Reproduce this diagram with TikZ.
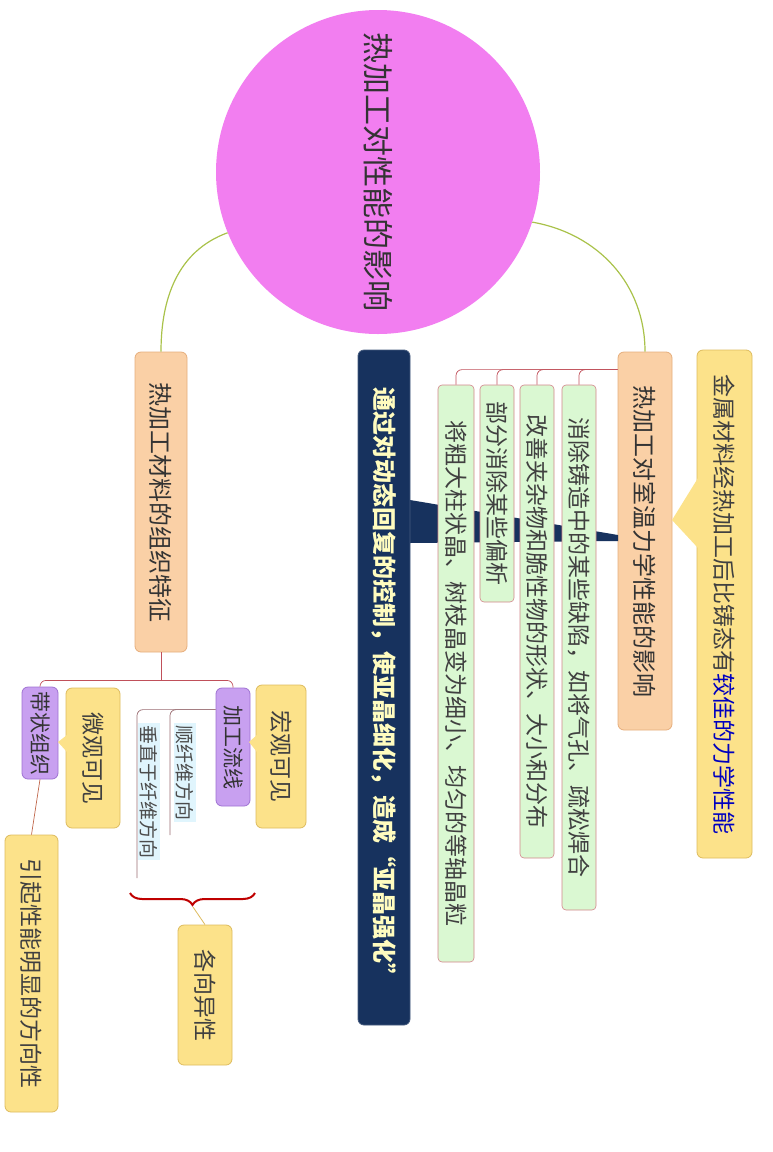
\documentclass[tikz,border=0pt]{standalone}
\usepackage{fontspec}
\newfontfamily\cjk{Noto Sans CJK SC}
\usetikzlibrary{decorations.pathreplacing}
\definecolor{peach}{HTML}{FAD0A6}
\definecolor{peachline}{HTML}{E6AE7C}
\definecolor{gold}{HTML}{FCE28A}
\definecolor{goldline}{HTML}{DDBB5E}
\definecolor{lilac}{HTML}{C8A0F0}
\definecolor{lilacline}{HTML}{9F72D2}
\definecolor{mint}{HTML}{DAF8D2}
\definecolor{navy}{HTML}{17325E}
\definecolor{olive}{HTML}{A9C24A}
\definecolor{orchid}{HTML}{F27EF0}
\definecolor{branchred}{HTML}{C0505A}
\tikzset{
  box/.style={rotate=-90, rounded corners=6pt, draw, line width=0.8pt, align=center, inner sep=2pt},
  topic/.style={box, fill=peach, draw=peachline, font=\cjk\fontsize{24}{28}\selectfont, text=black!80},
  note/.style={box, fill=gold, draw=goldline, font=\cjk\fontsize{23}{26}\selectfont, text=black!75},
  tag/.style={box, fill=lilac, draw=lilacline, font=\cjk\fontsize{21}{24}\selectfont, text=black!80},
  leaf/.style={box, rounded corners=4pt, fill=mint, draw=branchred!70, line width=0.6pt, font=\cjk\fontsize{23}{26}\selectfont, text=black!75},
  fibre/.style={rotate=-90, fill=cyan!12, inner sep=2pt, font=\cjk\fontsize{19}{22}\selectfont, text=black!70},
  branch/.style={draw=branchred, line width=0.7pt, rounded corners=6pt},
  stem/.style={draw=olive, line width=1.2pt}
}
\begin{document}
\begin{tikzpicture}[x=1pt, y=-1pt]
\useasboundingbox (0,0) rectangle (772,1152);
% centre
\node[circle, fill=orchid, minimum size=324pt, inner sep=0pt, rotate=-90,
  font=\cjk\fontsize{31}{34}\selectfont, text=black!80] (C) at (378,172) {热加工对性能的影响};
% right side
\node[topic, minimum width=378pt, minimum height=54pt] (R) at (645,541) {热加工对室温力学性能的影响};
\node[note, minimum width=508pt, minimum height=55pt] (K) at (724.5,604)
  {金属材料经热加工后比铸态有\textcolor{blue!75!black}{较佳的力学性能}};
\fill[gold] (698,478) -- (672,520) -- (698,548) -- cycle;
\fill[navy] (410,500) -- (618,535) -- (618,541) -- (410,543) -- cycle;
\node[box, fill=navy, draw=navy!80, minimum width=675pt, minimum height=52pt, text=yellow!25,
  font=\cjk\fontsize{24}{28}\selectfont\bfseries] (N) at (384,687.5)
  {通过对动态回复的控制，使亚晶细化，造成“亚晶强化”};
\node[leaf, minimum width=525pt, minimum height=34pt] (G1) at (579,647.5) {消除铸造中的某些缺陷，如将气孔、疏松焊合};
\node[leaf, minimum width=473pt, minimum height=34pt] (G2) at (537,621.5) {改善夹杂物和脆性物的形状、大小和分布};
\node[leaf, minimum width=217pt, minimum height=34pt] (G3) at (497,493.5) {部分消除某些偏析};
\node[leaf, minimum width=577pt, minimum height=36pt] (G4) at (456,673.5) {将粗大柱状晶、树枝晶变为细小、均匀的等轴晶粒};
\coordinate (rj) at ([yshift=-18pt]R.south west);
\foreach \g in {G1,G2,G3,G4}
  \draw[branch] (rj) -| (\g.west);
% left side
\node[topic, minimum width=300pt, minimum height=52pt] (L) at (161,502) {热加工材料的组织特征};
\node[tag, minimum width=118pt, minimum height=34pt] (F) at (233,747) {加工流线};
\node[note, minimum width=143pt, minimum height=50pt] (M) at (281,756.5) {宏观可见};
\node[tag, minimum width=92pt, minimum height=36pt] (B) at (40,733) {带状组织};
\node[note, minimum width=140pt, minimum height=54pt] (W) at (93,758) {微观可见};
\node[note, minimum width=277pt, minimum height=53pt] (E) at (31.5,973.5) {引起性能明显的方向性};
\node[note, minimum width=140pt, minimum height=54pt] (A) at (205,995) {各向异性};
\node[fibre, anchor=west] (S1) at (185,723) {顺纤维方向};
\node[fibre, anchor=west] (S2) at (149,723) {垂直于纤维方向};
\fill[gold] (257,735) -- (249,742) -- (257,752) -- cycle;
\fill[gold] (67,735) -- (58,742) -- (67,752) -- cycle;
\draw[branch] (L.east) -- ++(0,28) coordinate (lj);
\draw[branch] (lj) -| (F.west);
\draw[branch] (lj) -| (B.west);
\draw[branch] (F.south west) ++(0,22) coordinate (fj);
\draw[branch, draw=branchred!40!gray] (fj) -| (170,835);
\draw[branch, draw=branchred!40!gray] (fj) -| (137,878);
\draw[draw=branchred!50!brown, line width=0.7pt] (B.east) -- (E.west);
\draw[branch, draw=red!75!black, rounded corners=0pt, line width=2pt, decorate,
  decoration={brace, mirror, amplitude=12pt}] (130,893) -- (255,893);
\draw[draw=goldline, line width=0.8pt] (193,907) -- (A.west);
% stems
\draw[stem] (C.292) to[out=200, in=90] (L.west);
\draw[stem] (C.72) to[out=-10, in=90] (R.west);
\end{tikzpicture}
\end{document}
